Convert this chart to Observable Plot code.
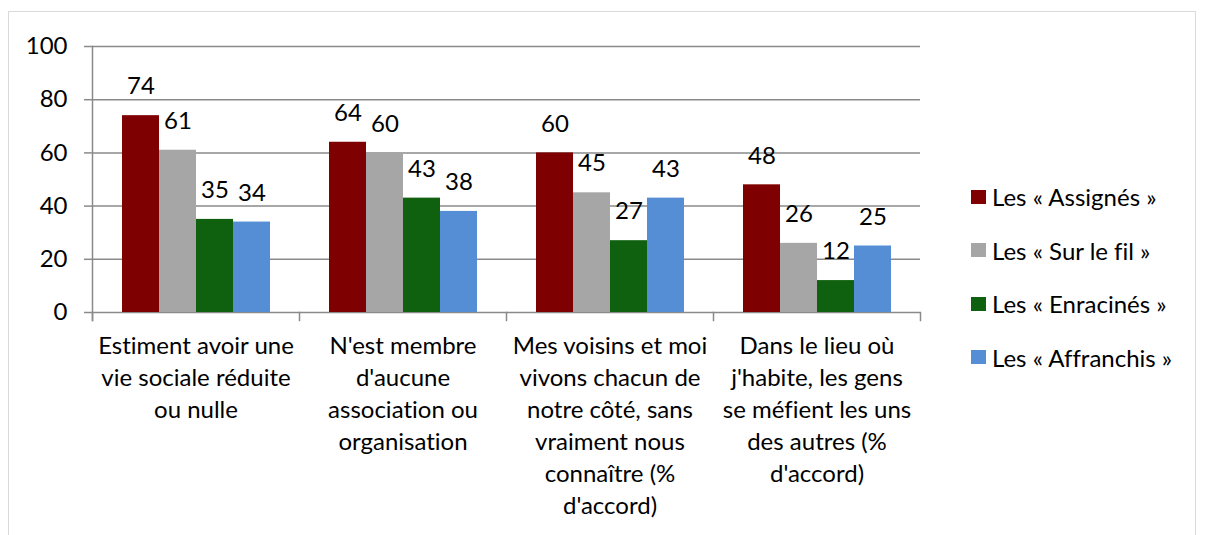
<!DOCTYPE html>
<html>
<head>
<meta charset="utf-8">
<script src="https://cdn.jsdelivr.net/npm/d3@7"></script>
<script src="https://cdn.jsdelivr.net/npm/@observablehq/plot@0.6"></script>
<style>
  html, body { margin: 0; padding: 0; background: #fff; }
  body { width: 1205px; height: 535px; position: relative; overflow: hidden; font-family: Lato, "Open Sans", sans-serif; font-variant-ligatures: none; }
  svg, svg text { font-variant-ligatures: none; }
  #frame { position: absolute; left: 8px; top: 11px; width: 1188px; height: 560px; border: 1px solid #d9d9d9; box-sizing: border-box; }
  #chart { position: absolute; left: 0; top: 0; }
  #legend { position: absolute; left: 971px; top: 170px; }
  .item { display: flex; align-items: center; height: 53.5px; font-size: 24px; color: #000; white-space: nowrap; }
  .sw { width: 15px; height: 14px; margin-right: 6px; flex: none; }
</style>
</head>
<body>
<div id="frame"></div>
<div id="chart"></div>
<div id="legend"></div>
<script>
const categories = ["vie sociale", "association", "voisins", "méfiance"];
const categoryLabels = [
  "Estiment avoir une\nvie sociale réduite\nou nulle",
  "N'est membre\nd'aucune\nassociation ou\norganisation",
  "Mes voisins et moi\nvivons chacun de\nnotre côté, sans\nvraiment nous\nconnaître (%\nd'accord)",
  "Dans le lieu où\nj'habite, les gens\nse méfient les uns\ndes autres (%\nd'accord)"
];
const series = ["Les « Assignés »", "Les « Sur le fil »", "Les « Enracinés »", "Les « Affranchis »"];
const assignes = [74, 64, 60, 48];
const surLeFil = [61, 60, 45, 26];
const enracines = [35, 43, 27, 12];
const affranchis = [34, 38, 43, 25];
const colors = ["#7f0000", "#a6a6a6", "#0f600f", "#558ed5"];
const yTicks = [0, 20, 40, 60, 80, 100];

const seriesValues = [assignes, surLeFil, enracines, affranchis];
const rows = [];
categories.forEach((c, i) => {
  series.forEach((s, k) => rows.push({category: c, series: s, value: seriesValues[k][i]}));
});
const labelOf = new Map(categories.map((c, i) => [c, categoryLabels[i]]));

const gridColor = "#8a8a8a";
const chart = Plot.plot({
  width: 1205,
  height: 535,
  marginLeft: 92,
  marginRight: 285,
  marginTop: 46,
  marginBottom: 223,
  style: {fontFamily: "Lato, 'Open Sans', sans-serif", background: "transparent", color: "#000"},
  fx: {domain: categories, padding: 0, axis: null},
  x: {domain: series, paddingInner: 0, paddingOuter: 0.76, axis: null},
  y: {domain: [0, 100], axis: null},
  color: {domain: series, range: colors},
  marks: [
    Plot.gridY(yTicks, {stroke: gridColor, strokeOpacity: 1, strokeWidth: 1.5}),
    Plot.barY(rows, {fx: "category", x: "series", y: "value", fill: "series"}),
    Plot.text(rows, {fx: "category", x: "series", y: "value", text: d => String(d.value), dy: -29, fontSize: 24, fill: "#000"}),
    Plot.axisY({ticks: yTicks, tickSize: 8, tickPadding: 17, fontSize: 24, stroke: gridColor, strokeWidth: 1.5, fill: "#000", label: null}),
    Plot.axisFx({anchor: "bottom", tickSize: 0, tickPadding: 19, tickFormat: d => labelOf.get(d), fontSize: 24, lineHeight: 1.33, lineAnchor: "top", fill: "#000", label: null}),
    Plot.frame({anchor: "left", facetAnchor: "left", insetBottom: -8, stroke: gridColor, strokeWidth: 1.5}),
    Plot.frame({anchor: "left", insetTop: 266, insetBottom: -8, stroke: gridColor, strokeWidth: 1.5}),
    Plot.frame({anchor: "right", facetAnchor: "right", insetTop: 266, insetBottom: -8, stroke: gridColor, strokeWidth: 1.5})
  ]
});
document.getElementById("chart").appendChild(chart);

const legend = document.getElementById("legend");
series.forEach((s, k) => {
  const item = document.createElement("div");
  item.className = "item";
  const sw = document.createElement("span");
  sw.className = "sw";
  sw.style.background = colors[k];
  const t = document.createElement("span");
  t.textContent = s;
  item.appendChild(sw);
  item.appendChild(t);
  legend.appendChild(item);
});
</script>
</body>
</html>
